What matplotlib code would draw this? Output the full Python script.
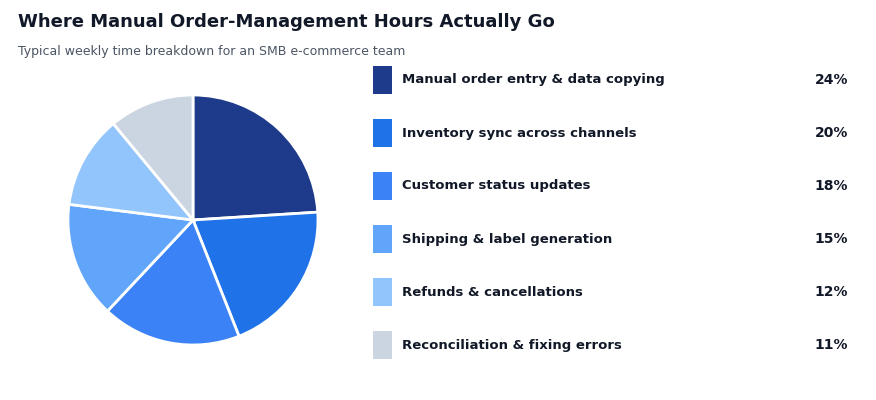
import matplotlib
matplotlib.use("Agg")
import matplotlib.pyplot as plt
from matplotlib.patches import Rectangle

categories = [
    "Manual order entry & data copying",
    "Inventory sync across channels",
    "Customer status updates",
    "Shipping & label generation",
    "Refunds & cancellations",
    "Reconciliation & fixing errors",
]
values = [24, 20, 18, 15, 12, 11]
colors = ["#1e3a8a", "#1f72e8", "#3b82f6", "#60a5fa", "#93c5fd", "#cbd5e1"]

title = "Where Manual Order-Management Hours Actually Go"
subtitle = "Typical weekly time breakdown for an SMB e-commerce team"

W, H = 876, 400
fig = plt.figure(figsize=(W / 100, H / 100), dpi=100)
fig.patch.set_facecolor("white")

fig.text(18 / W, 1 - 22 / H, title, fontsize=13, fontweight="bold",
         color="#111827", ha="left", va="center")
fig.text(18 / W, 1 - 52 / H, subtitle, fontsize=9, color="#4b5563",
         ha="left", va="center")

# Pie
cx, cy, r = 193, 220, 125
ax = fig.add_axes([(cx - r) / W, (H - cy - r) / H, 2 * r / W, 2 * r / H])
ax.pie(values, colors=colors, startangle=90, counterclock=False,
       wedgeprops=dict(edgecolor="white", linewidth=2))
ax.set_xlim(-1.0, 1.0)
ax.set_ylim(-1.0, 1.0)
ax.set_aspect("equal")
ax.axis("off")

# Legend
lax = fig.add_axes([0, 0, 1, 1], zorder=-1)
lax.set_xlim(0, W)
lax.set_ylim(H, 0)
lax.axis("off")
y0, step = 80, 53
for i, (cat, v, c) in enumerate(zip(categories, values, colors)):
    y = y0 + i * step
    lax.add_patch(Rectangle((373, y - 14), 19, 28, facecolor=c, edgecolor="none"))
    lax.text(402, y, cat, fontsize=9.5, fontweight="bold", color="#111827",
             ha="left", va="center")
    lax.text(848, y, f"{v}%", fontsize=10, fontweight="bold", color="#111827",
             ha="right", va="center")

fig.savefig("out.png", dpi=100, facecolor="white")
